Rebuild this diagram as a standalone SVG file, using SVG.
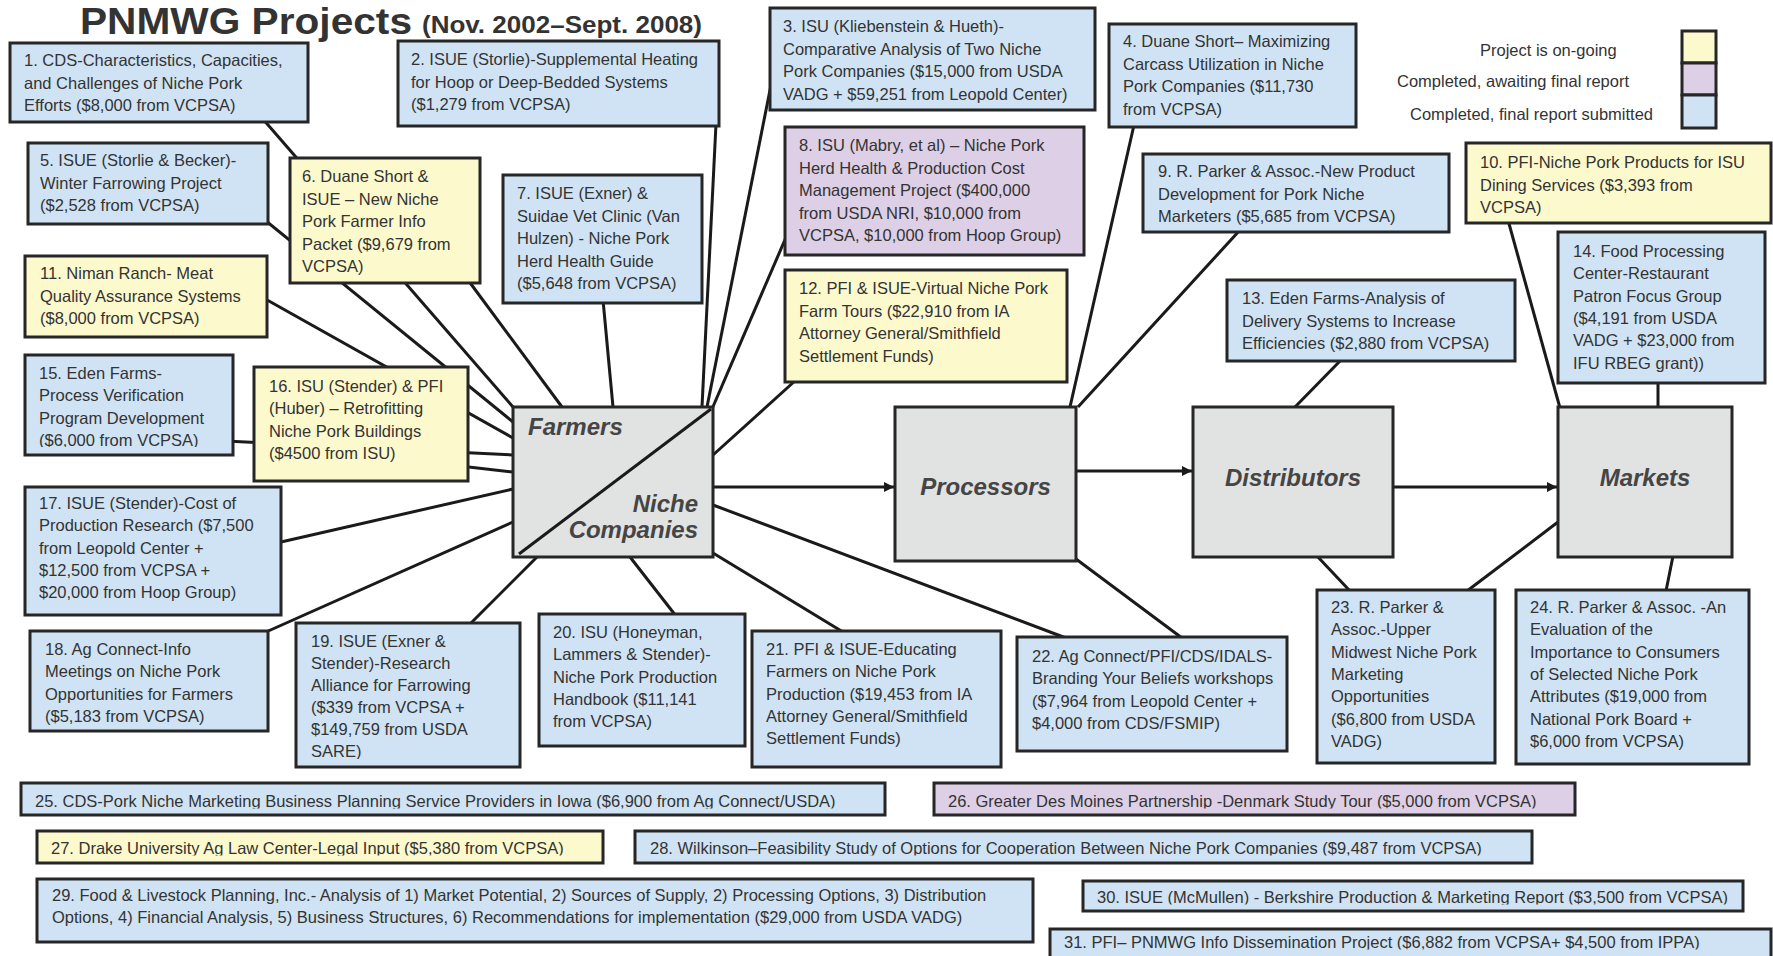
<svg xmlns="http://www.w3.org/2000/svg" width="1773" height="956" viewBox="0 0 1773 956">
<style>
.node rect{stroke:#262626;stroke-width:3}
.blue{fill:#cfe3f4}.yel{fill:#fcf9cd}.pur{fill:#ddcfe5}.gray{fill:#e1e2e2}
.t{font-family:"Liberation Sans",Arial,sans-serif;font-size:16.5px;fill:#333}
.hub{font-family:"Liberation Sans",Arial,sans-serif;font-size:24px;font-weight:bold;font-style:italic;fill:#454545}
.ttl{font-family:"Liberation Sans",Arial,sans-serif;font-weight:bold;fill:#333}
#connectors line{stroke:#1a1a1a;stroke-width:3}
</style>
<defs>
<marker id="arr" markerUnits="userSpaceOnUse" markerWidth="11" markerHeight="11" refX="10" refY="5" orient="auto"><path d="M0,0 L10,5 L0,10 z" fill="#1a1a1a"/></marker>
<clipPath id="k15"><rect x="25" y="355" width="208" height="92"/></clipPath>
<clipPath id="k19"><rect x="296" y="623" width="224" height="136"/></clipPath>
<clipPath id="k25"><rect x="21" y="783" width="864" height="25.5"/></clipPath>
<clipPath id="k26"><rect x="934" y="783" width="641" height="25.5"/></clipPath>
<clipPath id="k27"><rect x="37" y="831" width="566" height="24.5"/></clipPath>
<clipPath id="k28"><rect x="635" y="831" width="897" height="24.5"/></clipPath>
<clipPath id="k30"><rect x="1083" y="881" width="660" height="23.5"/></clipPath>
<clipPath id="k31"><rect x="1050" y="929" width="721" height="20.5"/></clipPath>
</defs>

<g id="title">
<text class="ttl" x="80" y="34" font-size="36" textLength="332" lengthAdjust="spacingAndGlyphs">PNMWG Projects</text>
<text class="ttl" x="422" y="33" font-size="23" textLength="280" lengthAdjust="spacingAndGlyphs">(Nov. 2002–Sept. 2008)</text>
</g>

<g id="connectors">
<line x1="262" y1="118" x2="513" y2="407"/>
<line x1="716" y1="124" x2="702" y2="407"/>
<line x1="771" y1="85" x2="707" y2="407"/>
<line x1="255" y1="212" x2="513" y2="422"/>
<line x1="468" y1="280" x2="562" y2="407"/>
<line x1="603" y1="300" x2="613" y2="407"/>
<line x1="787" y1="235" x2="712" y2="409"/>
<line x1="260" y1="296" x2="513" y2="438"/>
<line x1="225" y1="441" x2="513" y2="455"/>
<line x1="460" y1="466" x2="513" y2="472"/>
<line x1="281" y1="542" x2="513" y2="489"/>
<line x1="266" y1="632" x2="513" y2="522"/>
<line x1="470" y1="624" x2="537" y2="557"/>
<line x1="676" y1="616" x2="630" y2="557"/>
<line x1="843" y1="632" x2="713" y2="553"/>
<line x1="1066" y1="638" x2="713" y2="505"/>
<line x1="713" y1="455" x2="796" y2="380"/>
<line x1="1134" y1="125" x2="1070" y2="407"/>
<line x1="1240" y1="230" x2="1078" y2="407"/>
<line x1="1076" y1="559" x2="1182" y2="638"/>
<line x1="1342" y1="359" x2="1295" y2="407"/>
<line x1="1317" y1="556" x2="1350" y2="591"/>
<line x1="1558" y1="522" x2="1467" y2="591"/>
<line x1="1673" y1="556" x2="1666" y2="591"/>
<line x1="1508" y1="220" x2="1560" y2="408"/>
<line x1="1658" y1="375" x2="1658" y2="408"/>
<line x1="713" y1="487" x2="894" y2="487" marker-end="url(#arr)"/>
<line x1="1076" y1="471" x2="1192" y2="471" marker-end="url(#arr)"/>
<line x1="1393" y1="487" x2="1557" y2="487" marker-end="url(#arr)"/>
</g>

<g id="legend" class="node">
<text class="t" x="1480" y="56">Project is on-going</text>
<text class="t" x="1397" y="87">Completed, awaiting final report</text>
<text class="t" x="1410" y="120">Completed, final report submitted</text>
<rect class="yel" x="1682" y="31" width="34" height="32"/>
<rect class="pur" x="1682" y="63" width="34" height="32"/>
<rect class="blue" x="1682" y="95" width="34" height="33"/>
</g>

<g id="farmers" class="node">
<rect class="gray" x="513" y="407" width="200" height="150"/>
<line x1="519" y1="554" x2="711" y2="409" stroke="#1a1a1a" stroke-width="3"/>
<text class="hub" x="528" y="435">Farmers</text>
<text class="hub" x="698" y="512" text-anchor="end">Niche</text>
<text class="hub" x="698" y="538" text-anchor="end">Companies</text>
</g>
<g id="processors" class="node">
<rect class="gray" x="895" y="407" width="181" height="154"/>
<text class="hub" x="985.5" y="495" text-anchor="middle">Processors</text>
</g>
<g id="distributors" class="node">
<rect class="gray" x="1193" y="407" width="200" height="150"/>
<text class="hub" x="1293" y="486" text-anchor="middle">Distributors</text>
</g>
<g id="markets" class="node">
<rect class="gray" x="1558" y="407" width="174" height="150"/>
<text class="hub" x="1645" y="486" text-anchor="middle">Markets</text>
</g>

<g id="n1" class="node"><rect class="blue" x="10" y="43" width="298" height="79"/>
<text class="t"><tspan x="24" y="66">1. CDS-Characteristics, Capacities,</tspan><tspan x="24" y="88.5">and Challenges of Niche Pork</tspan><tspan x="24" y="111">Efforts ($8,000 from VCPSA)</tspan></text></g>

<g id="n2" class="node"><rect class="blue" x="398" y="41" width="321" height="85"/>
<text class="t"><tspan x="411" y="65">2. ISUE (Storlie)-Supplemental Heating</tspan><tspan x="411" y="87.5">for Hoop or Deep-Bedded Systems</tspan><tspan x="411" y="110">($1,279 from VCPSA)</tspan></text></g>

<g id="n3" class="node"><rect class="blue" x="770" y="8" width="325" height="102"/>
<text class="t"><tspan x="783" y="32">3. ISU (Kliebenstein &amp; Hueth)-</tspan><tspan x="783" y="54.5">Comparative Analysis of Two Niche</tspan><tspan x="783" y="77">Pork Companies ($15,000 from USDA</tspan><tspan x="783" y="99.5">VADG + $59,251 from Leopold Center)</tspan></text></g>

<g id="n4" class="node"><rect class="blue" x="1109" y="24" width="247" height="103"/>
<text class="t"><tspan x="1123" y="47">4. Duane Short– Maximizing</tspan><tspan x="1123" y="69.5">Carcass Utilization in Niche</tspan><tspan x="1123" y="92">Pork Companies ($11,730</tspan><tspan x="1123" y="114.5">from VCPSA)</tspan></text></g>

<g id="n5" class="node"><rect class="blue" x="28" y="143" width="240" height="81"/>
<text class="t"><tspan x="40" y="166">5. ISUE (Storlie &amp; Becker)-</tspan><tspan x="40" y="188.5">Winter Farrowing Project</tspan><tspan x="40" y="211">($2,528 from VCPSA)</tspan></text></g>

<g id="n6" class="node"><rect class="yel" x="290" y="158" width="190" height="125"/>
<text class="t"><tspan x="302" y="182">6. Duane Short &amp;</tspan><tspan x="302" y="204.5">ISUE – New Niche</tspan><tspan x="302" y="227">Pork Farmer Info</tspan><tspan x="302" y="249.5">Packet ($9,679 from</tspan><tspan x="302" y="272">VCPSA)</tspan></text></g>

<g id="n7" class="node"><rect class="blue" x="503" y="175" width="199" height="128"/>
<text class="t"><tspan x="517" y="199">7. ISUE (Exner) &amp;</tspan><tspan x="517" y="221.5">Suidae Vet Clinic (Van</tspan><tspan x="517" y="244">Hulzen) - Niche Pork</tspan><tspan x="517" y="266.5">Herd Health Guide</tspan><tspan x="517" y="289">($5,648 from VCPSA)</tspan></text></g>

<g id="n8" class="node"><rect class="pur" x="785" y="127" width="299" height="128"/>
<text class="t"><tspan x="799" y="151">8. ISU (Mabry, et al) – Niche Pork</tspan><tspan x="799" y="173.5">Herd Health &amp; Production Cost</tspan><tspan x="799" y="196">Management Project ($400,000</tspan><tspan x="799" y="218.5">from USDA NRI, $10,000 from</tspan><tspan x="799" y="241">VCPSA, $10,000 from Hoop Group)</tspan></text></g>

<g id="n9" class="node"><rect class="blue" x="1143" y="154" width="306" height="78"/>
<text class="t"><tspan x="1158" y="177">9. R. Parker &amp; Assoc.-New Product</tspan><tspan x="1158" y="199.5">Development for Pork Niche</tspan><tspan x="1158" y="222">Marketers ($5,685 from VCPSA)</tspan></text></g>

<g id="n10" class="node"><rect class="yel" x="1466" y="143" width="305" height="80"/>
<text class="t"><tspan x="1480" y="168">10. PFI-Niche Pork Products for ISU</tspan><tspan x="1480" y="190.5">Dining Services ($3,393 from</tspan><tspan x="1480" y="213">VCPSA)</tspan></text></g>

<g id="n11" class="node"><rect class="yel" x="25" y="256" width="242" height="81"/>
<text class="t"><tspan x="40" y="279">11. Niman Ranch- Meat</tspan><tspan x="40" y="301.5">Quality Assurance Systems</tspan><tspan x="40" y="324">($8,000 from VCPSA)</tspan></text></g>

<g id="n12" class="node"><rect class="yel" x="785" y="270" width="282" height="112"/>
<text class="t"><tspan x="799" y="294">12. PFI &amp; ISUE-Virtual Niche Pork</tspan><tspan x="799" y="316.5">Farm Tours ($22,910 from IA</tspan><tspan x="799" y="339">Attorney General/Smithfield</tspan><tspan x="799" y="361.5">Settlement Funds)</tspan></text></g>

<g id="n13" class="node"><rect class="blue" x="1227" y="280" width="288" height="81"/>
<text class="t"><tspan x="1242" y="304">13. Eden Farms-Analysis of</tspan><tspan x="1242" y="326.5">Delivery Systems to Increase</tspan><tspan x="1242" y="349">Efficiencies ($2,880 from VCPSA)</tspan></text></g>

<g id="n14" class="node"><rect class="blue" x="1558" y="232" width="207" height="151"/>
<text class="t"><tspan x="1573" y="257">14. Food Processing</tspan><tspan x="1573" y="279.3">Center-Restaurant</tspan><tspan x="1573" y="301.6">Patron Focus Group</tspan><tspan x="1573" y="323.9">($4,191 from USDA</tspan><tspan x="1573" y="346.2">VADG + $23,000 from</tspan><tspan x="1573" y="368.5">IFU RBEG grant))</tspan></text></g>

<g id="n15" class="node"><rect class="blue" x="25" y="355" width="208" height="100"/>
<text class="t" clip-path="url(#k15)"><tspan x="39" y="379">15. Eden Farms-</tspan><tspan x="39" y="401.3">Process Verification</tspan><tspan x="39" y="423.6">Program Development</tspan><tspan x="39" y="445.9">($6,000 from VCPSA)</tspan></text></g>

<g id="n16" class="node"><rect class="yel" x="254" y="367" width="214" height="114"/>
<text class="t"><tspan x="269" y="392">16. ISU (Stender) &amp; PFI</tspan><tspan x="269" y="414.3">(Huber) – Retrofitting</tspan><tspan x="269" y="436.6">Niche Pork Buildings</tspan><tspan x="269" y="458.9">($4500 from ISU)</tspan></text></g>

<g id="n17" class="node"><rect class="blue" x="25" y="487" width="256" height="128"/>
<text class="t"><tspan x="39" y="509">17. ISUE (Stender)-Cost of</tspan><tspan x="39" y="531.3">Production Research ($7,500</tspan><tspan x="39" y="553.6">from Leopold Center +</tspan><tspan x="39" y="575.9">$12,500 from VCPSA +</tspan><tspan x="39" y="598.2">$20,000 from Hoop Group)</tspan></text></g>

<g id="n18" class="node"><rect class="blue" x="30" y="631" width="238" height="100"/>
<text class="t"><tspan x="45" y="655">18. Ag Connect-Info</tspan><tspan x="45" y="677.3">Meetings on Niche Pork</tspan><tspan x="45" y="699.6">Opportunities for Farmers</tspan><tspan x="45" y="721.9">($5,183 from VCPSA)</tspan></text></g>

<g id="n19" class="node"><rect class="blue" x="296" y="623" width="224" height="144"/>
<text class="t" clip-path="url(#k19)"><tspan x="311" y="647">19. ISUE (Exner &amp;</tspan><tspan x="311" y="669">Stender)-Research</tspan><tspan x="311" y="691">Alliance for Farrowing</tspan><tspan x="311" y="713">($339 from VCPSA +</tspan><tspan x="311" y="735">$149,759 from USDA</tspan><tspan x="311" y="757">SARE)</tspan></text></g>

<g id="n20" class="node"><rect class="blue" x="539" y="614" width="206" height="132"/>
<text class="t"><tspan x="553" y="638">20. ISU (Honeyman,</tspan><tspan x="553" y="660.3">Lammers &amp; Stender)-</tspan><tspan x="553" y="682.6">Niche Pork Production</tspan><tspan x="553" y="704.9">Handbook ($11,141</tspan><tspan x="553" y="727.2">from VCPSA)</tspan></text></g>

<g id="n21" class="node"><rect class="blue" x="752" y="631" width="249" height="136"/>
<text class="t"><tspan x="766" y="655">21. PFI &amp; ISUE-Educating</tspan><tspan x="766" y="677.3">Farmers on Niche Pork</tspan><tspan x="766" y="699.6">Production ($19,453 from IA</tspan><tspan x="766" y="721.9">Attorney General/Smithfield</tspan><tspan x="766" y="744.2">Settlement Funds)</tspan></text></g>

<g id="n22" class="node"><rect class="blue" x="1017" y="637" width="270" height="114"/>
<text class="t"><tspan x="1032" y="662">22. Ag Connect/PFI/CDS/IDALS-</tspan><tspan x="1032" y="684.3">Branding Your Beliefs workshops</tspan><tspan x="1032" y="706.6">($7,964 from Leopold Center +</tspan><tspan x="1032" y="728.9">$4,000 from CDS/FSMIP)</tspan></text></g>

<g id="n23" class="node"><rect class="blue" x="1317" y="590" width="178" height="173"/>
<text class="t"><tspan x="1331" y="613">23. R. Parker &amp;</tspan><tspan x="1331" y="635.3">Assoc.-Upper</tspan><tspan x="1331" y="657.6">Midwest Niche Pork</tspan><tspan x="1331" y="679.9">Marketing</tspan><tspan x="1331" y="702.2">Opportunities</tspan><tspan x="1331" y="724.5">($6,800 from USDA</tspan><tspan x="1331" y="746.8">VADG)</tspan></text></g>

<g id="n24" class="node"><rect class="blue" x="1516" y="590" width="233" height="174"/>
<text class="t"><tspan x="1530" y="613">24. R. Parker &amp; Assoc. -An</tspan><tspan x="1530" y="635.3">Evaluation of the</tspan><tspan x="1530" y="657.6">Importance to Consumers</tspan><tspan x="1530" y="679.9">of Selected Niche Pork</tspan><tspan x="1530" y="702.2">Attributes ($19,000 from</tspan><tspan x="1530" y="724.5">National Pork Board +</tspan><tspan x="1530" y="746.8">$6,000 from VCPSA)</tspan></text></g>

<g id="n25" class="node"><rect class="blue" x="21" y="783" width="864" height="32"/>
<text class="t" clip-path="url(#k25)" x="35" y="807">25.  CDS-Pork Niche Marketing Business Planning Service Providers in Iowa ($6,900 from Ag Connect/USDA)</text></g>

<g id="n26" class="node"><rect class="pur" x="934" y="783" width="641" height="32"/>
<text class="t" clip-path="url(#k26)" x="948" y="807">26. Greater Des Moines Partnership -Denmark Study Tour ($5,000 from VCPSA)</text></g>

<g id="n27" class="node"><rect class="yel" x="37" y="831" width="566" height="32"/>
<text class="t" clip-path="url(#k27)" x="51" y="854">27. Drake University Ag Law Center-Legal Input ($5,380 from VCPSA)</text></g>

<g id="n28" class="node"><rect class="blue" x="635" y="831" width="897" height="32"/>
<text class="t" clip-path="url(#k28)" x="650" y="854">28. Wilkinson–Feasibility Study of Options for Cooperation Between Niche Pork Companies ($9,487 from VCPSA)</text></g>

<g id="n29" class="node"><rect class="blue" x="37" y="879" width="996" height="63"/>
<text class="t"><tspan x="52" y="901">29. Food &amp; Livestock Planning, Inc.- Analysis  of 1) Market Potential, 2) Sources of Supply, 2) Processing Options, 3) Distribution</tspan><tspan x="52" y="923">Options, 4) Financial Analysis, 5) Business Structures, 6) Recommendations for implementation ($29,000 from USDA VADG)</tspan></text></g>

<g id="n30" class="node"><rect class="blue" x="1083" y="881" width="660" height="30"/>
<text class="t" clip-path="url(#k30)" x="1097" y="903">30. ISUE (McMullen) - Berkshire Production &amp; Marketing Report ($3,500 from VCPSA)</text></g>

<g id="n31" class="node"><rect class="blue" x="1050" y="929" width="721" height="32"/>
<text class="t" clip-path="url(#k31)" x="1064" y="948">31. PFI– PNMWG Info Dissemination Project ($6,882 from VCPSA+ $4,500 from IPPA)</text></g>
</svg>
